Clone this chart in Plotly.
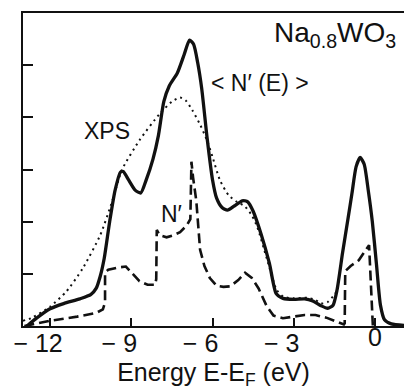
import plotly.graph_objects as go

# <N'(E)> : broadened, weighted density of states (solid)
nbar_e = [-12.85, -12.5, -12.0, -11.5, -10.9, -10.5, -10.3, -10.15, -10.0, -9.8,
          -9.6, -9.4, -9.3, -9.1, -8.85, -8.65, -8.45, -8.2, -8.0, -7.8,
          -7.6, -7.3, -7.05, -6.85, -6.7, -6.55, -6.4, -6.2, -6.0, -5.85,
          -5.65, -5.45, -5.2, -4.9, -4.7, -4.5, -4.2, -3.9, -3.65, -3.4,
          -3.0, -2.6, -2.3, -2.0, -1.75, -1.55, -1.4, -1.2, -1.0, -0.85,
          -0.7, -0.55, -0.4, -0.25, -0.1, 0.05, 0.2, 0.35, 0.6, 1.07]
nbar_v = [0.0, 0.15, 0.33, 0.43, 0.52, 0.6, 0.72, 0.95, 1.3, 2.0,
          2.6, 2.95, 2.96, 2.8, 2.6, 2.55, 2.8, 3.2, 3.65, 4.3,
          4.6, 4.85, 5.2, 5.48, 5.4, 5.05, 4.55, 3.6, 2.8, 2.45,
          2.27, 2.22, 2.3, 2.4, 2.38, 2.2, 1.75, 1.2, 0.62, 0.53,
          0.51, 0.52, 0.48, 0.39, 0.34, 0.4, 0.7, 1.4, 2.05, 2.55,
          3.05, 3.23, 3.1, 2.6, 2.0, 1.2, 0.4, 0.12, 0.04, 0.01]

# XPS valence band spectrum (dotted)
xps_e = [-13.0, -12.7, -12.0, -11.4, -10.8, -10.15, -9.7, -9.35, -8.7, -7.95,
         -7.5, -7.2, -7.0, -6.75, -6.45, -6.2, -6.0, -5.73, -5.4, -5.1,
         -4.8, -4.55, -4.35, -4.0, -3.63, -3.38, -3.0, -2.5, -2.2, -2.0,
         -1.75, -1.5, -1.35]
xps_v = [0.1, 0.15, 0.37, 0.66, 1.1, 1.74, 2.4, 2.99, 3.56, 4.07,
         4.3, 4.38, 4.33, 4.14, 3.85, 3.55, 3.24, 2.8, 2.5, 2.38,
         2.29, 2.12, 1.9, 1.3, 0.69, 0.56, 0.53, 0.54, 0.5, 0.43,
         0.46, 0.6, 0.72]

# N' : unbroadened weighted density of states (dashed)
np_e = [-12.95, -12.0, -11.0, -10.3, -10.05, -9.97, -9.97, -9.85, -9.5, -9.2,
        -8.95, -8.7, -8.4, -8.12, -8.08, -8.06, -7.95, -7.7, -7.45, -7.2,
        -6.95, -6.82, -6.78, -6.72, -6.6, -6.46, -6.3, -6.1, -5.85, -5.6,
        -5.35, -5.05, -4.8, -4.55, -4.3, -4.0, -3.75, -3.4, -3.0, -2.6,
        -2.2, -1.8, -1.4, -1.15, -1.12, -1.1, -0.9, -0.6, -0.22, -0.08]
np_v = [0.0, 0.1, 0.18, 0.25, 0.32, 0.45, 1.02, 1.08, 1.12, 1.14,
        1.0, 0.86, 0.79, 0.79, 0.9, 1.84, 1.74, 1.7, 1.74, 1.8,
        1.93, 2.05, 3.15, 2.85, 2.4, 1.46, 1.15, 0.92, 0.77, 0.75,
        0.76, 0.88, 1.02, 0.92, 0.72, 0.38, 0.2, 0.15, 0.18, 0.21,
        0.21, 0.16, 0.08, 0.03, 0.05, 1.05, 1.15, 1.26, 1.55, 0.0]

neg_ticks = [-12, -9, -6, -3]
neg_labels = ["\u2212 12", "\u2212 9", "\u2212 6", "\u2212 3"]
zero_ticks = [0]
zero_labels = ["0"]
y_ticks = [1, 2, 3, 4, 5]

INK = "#111111"
FONT = "Liberation Sans, Arial, sans-serif"

fig = go.Figure()
fig.add_trace(go.Scatter(x=xps_e, y=xps_v, mode="lines",
                         line=dict(color=INK, width=2, dash="2px,4px", shape="spline", smoothing=0.6)))
fig.add_trace(go.Scatter(x=np_e, y=np_v, mode="lines",
                         line=dict(color=INK, width=2.6, dash="10px,5px")))
fig.add_trace(go.Scatter(x=nbar_e, y=nbar_v, mode="lines",
                         line=dict(color=INK, width=3.3, shape="spline", smoothing=0.6)))
# the "0" tick lives on an overlaid axis so the negative labels can be nudged alone
fig.add_trace(go.Scatter(x=[None], y=[None], xaxis="x2", showlegend=False))

fig.update_layout(
    width=404, height=390,
    margin=dict(l=23, r=0, t=13, b=64),
    paper_bgcolor="white", plot_bgcolor="white",
    showlegend=False,
    font=dict(family=FONT, color=INK, size=23),
    xaxis=dict(
        range=[-13, 1.07], showgrid=False, zeroline=False,
        showline=True, linecolor=INK, linewidth=2, mirror=True,
        ticks="inside", ticklen=8, tickwidth=2, tickcolor=INK,
        tickvals=neg_ticks, ticktext=neg_labels, ticklabelshift=-12,
        ticklabelstandoff=-6,
        tickfont=dict(size=25),
        title=dict(text="Energy E-E<sub>F</sub> (eV)", font=dict(size=25), standoff=13),
    ),
    xaxis2=dict(
        range=[-13, 1.07], overlaying="x", side="bottom", anchor="y",
        showgrid=False, zeroline=False, showline=False,
        ticks="inside", ticklen=8, tickwidth=2, tickcolor=INK,
        tickvals=zero_ticks, ticktext=zero_labels, tickfont=dict(size=25),
        ticklabelstandoff=-6,
    ),
    yaxis=dict(
        range=[0, 6], showgrid=False, zeroline=False,
        showline=True, linecolor=INK, linewidth=2,
        ticks="inside", ticklen=10, tickwidth=2, tickcolor=INK,
        tickvals=y_ticks, showticklabels=False,
    ),
    annotations=[
        dict(x=-9.9, y=3.74, text="XPS", showarrow=False, font=dict(size=23)),
        dict(x=-4.26, y=4.66, text="< N\u2032 (E) >", showarrow=False, font=dict(size=23)),
        dict(x=-7.53, y=2.15, text="N\u2032", showarrow=False, font=dict(size=23)),
        dict(x=0.85, y=5.59, text="Na<sub>0.8</sub>WO<sub>3</sub>", showarrow=False,
             xanchor="right", font=dict(size=28)),
    ],
)

fig.write_html("out.html")
